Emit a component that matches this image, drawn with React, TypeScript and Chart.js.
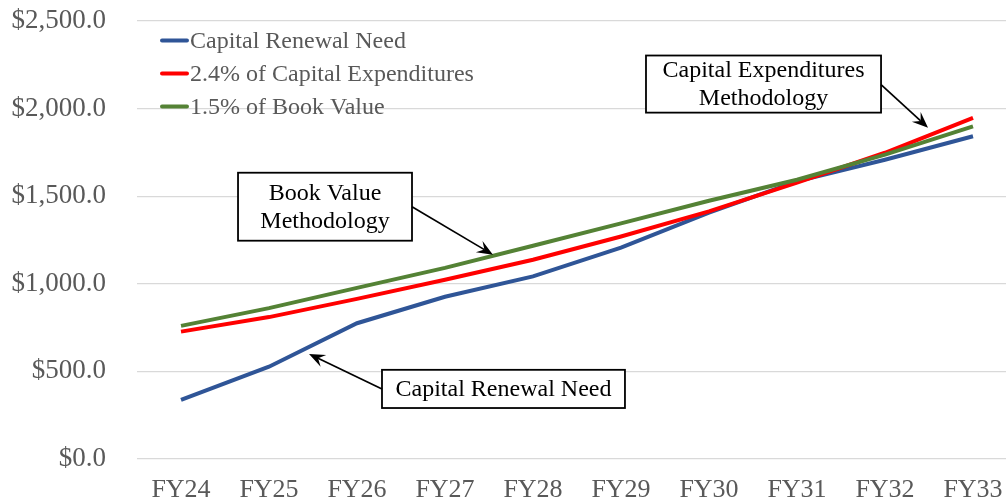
import React, { useEffect, useRef } from "react";
import { Chart, registerables } from "chart.js";

Chart.register(...registerables);

const categories = ["FY24", "FY25", "FY26", "FY27", "FY28", "FY29", "FY30", "FY31", "FY32", "FY33"];
const capitalRenewalNeed = [337, 527, 775, 926, 1042, 1206, 1406, 1585, 1708, 1842];
const capitalExpenditures = [727, 810, 914, 1023, 1137, 1270, 1413, 1577, 1748, 1947];
const bookValue = [760, 861, 977, 1091, 1217, 1345, 1474, 1594, 1737, 1899];
const seriesNames = ["Capital Renewal Need", "2.4% of Capital Expenditures", "1.5% of Book Value"];
const seriesColors = ["#2F5597", "#FF0000", "#548235"];
const yTicks = [0, 500, 1000, 1500, 2000, 2500];

// Callout boxes in data coordinates: [leftIndex, topValue, rightIndex, bottomValue]
const calloutTexts = [["Book Value", "Methodology"], ["Capital Renewal Need"], ["Capital Expenditures", "Methodology"]];
const calloutBoxes = [
  [0.648, 1634, 2.625, 1246],
  [2.284, 509, 5.045, 291],
  [5.284, 2303, 7.955, 1977],
];
// Arrow: side of box ("right"/"left"), start value on that side, tip [index, value]
const calloutArrows = [
  { side: "right", startValue: 1440, tip: [3.545, 1166] },
  { side: "left", startValue: 400, tip: [1.455, 600] },
  { side: "right", startValue: 2137, tip: [8.489, 1891] },
];

const FONT = "'Liberation Serif', 'Times New Roman', serif";

function drawArrow(ctx: CanvasRenderingContext2D, x1: number, y1: number, x2: number, y2: number) {
  const ang = Math.atan2(y2 - y1, x2 - x1);
  const len = 16;
  const half = 6.5;
  const notch = 10;
  ctx.save();
  ctx.strokeStyle = "#000";
  ctx.fillStyle = "#000";
  ctx.lineWidth = 1.7;
  ctx.beginPath();
  ctx.moveTo(x1, y1);
  ctx.lineTo(x2 - Math.cos(ang) * notch, y2 - Math.sin(ang) * notch);
  ctx.stroke();
  ctx.translate(x2, y2);
  ctx.rotate(ang);
  ctx.beginPath();
  ctx.moveTo(0, 0);
  ctx.lineTo(-len, -half);
  ctx.lineTo(-notch, 0);
  ctx.lineTo(-len, half);
  ctx.closePath();
  ctx.fill();
  ctx.restore();
}

const overlayPlugin = {
  id: "overlay",
  afterDatasetsDraw(chart: any) {
    const ctx: CanvasRenderingContext2D = chart.ctx;
    const xs = chart.scales.x;
    const ys = chart.scales.y;
    const area = chart.chartArea;
    const xAt = (i: number) => xs.getPixelForValue(0) + i * (xs.getPixelForValue(1) - xs.getPixelForValue(0));

    // Legend
    ctx.save();
    const lx = area.left + 23;
    const ly = area.top + 19.5;
    const rowH = 33;
    seriesNames.forEach((name, i) => {
      const y = ly + i * rowH;
      ctx.strokeStyle = seriesColors[i];
      ctx.lineWidth = 4;
      ctx.lineCap = "round";
      ctx.beginPath();
      ctx.moveTo(lx + 2, y);
      ctx.lineTo(lx + 27, y);
      ctx.stroke();
      ctx.fillStyle = "#595959";
      ctx.font = `24px ${FONT}`;
      ctx.textAlign = "left";
      ctx.textBaseline = "middle";
      ctx.fillText(name, lx + 30, y + 1);
    });
    ctx.restore();

    // Callouts
    calloutBoxes.forEach((b, i) => {
      const left = xAt(b[0]);
      const right = xAt(b[2]);
      const top = ys.getPixelForValue(b[1]);
      const bottom = ys.getPixelForValue(b[3]);
      ctx.save();
      ctx.fillStyle = "#FFFFFF";
      ctx.fillRect(left, top, right - left, bottom - top);
      ctx.strokeStyle = "#000";
      ctx.lineWidth = 1.8;
      ctx.strokeRect(left, top, right - left, bottom - top);
      const lines = calloutTexts[i];
      const lh = 28;
      const cy = (top + bottom) / 2;
      const cx = (left + right) / 2;
      ctx.fillStyle = "#000";
      ctx.font = `24px ${FONT}`;
      ctx.textAlign = "center";
      ctx.textBaseline = "middle";
      lines.forEach((t, j) => {
        ctx.fillText(t, cx, cy + (j - (lines.length - 1) / 2) * lh + 1);
      });
      ctx.restore();
      const a = calloutArrows[i];
      const sx = a.side === "right" ? right : left;
      const sy = ys.getPixelForValue(a.startValue);
      drawArrow(ctx, sx, sy, xAt(a.tip[0]), ys.getPixelForValue(a.tip[1]));
    });
  },
};

export default function App() {
  const canvasRef = useRef<HTMLCanvasElement | null>(null);

  useEffect(() => {
    if (!canvasRef.current) return;
    const series = [capitalRenewalNeed, capitalExpenditures, bookValue];
    const chart = new Chart(canvasRef.current, {
      type: "line",
      data: {
        labels: categories,
        datasets: series.map((d, i) => ({
          label: seriesNames[i],
          data: d,
          borderColor: seriesColors[i],
          backgroundColor: seriesColors[i],
          borderWidth: 4,
          pointRadius: 0,
          tension: 0,
          fill: false,
          order: 2 - i,
        })),
      },
      options: {
        animation: false,
        responsive: true,
        maintainAspectRatio: false,
        layout: { padding: { top: 21, right: 7, left: 0, bottom: 0 } },
        plugins: { legend: { display: false }, tooltip: { enabled: false } },
        scales: {
          x: {
            offset: true,
            grid: { display: false, drawTicks: false },
            border: { display: false },
            ticks: { color: "#595959", font: { family: FONT, size: 26 }, padding: 16, maxRotation: 0 },
            afterFit: (s: any) => {
              s.height = 45;
              s.paddingLeft = 0;
              s.paddingRight = 0;
            },
          },
          y: {
            min: 0,
            max: 2500,
            afterBuildTicks: (s: any) => {
              s.ticks = yTicks.map((v) => ({ value: v }));
            },
            grid: { color: "#D9D9D9", lineWidth: 1.3, drawTicks: false },
            border: { display: false },
            ticks: {
              color: "#595959",
              font: { family: FONT, size: 27 },
              padding: 31,
              callback: (v: any) =>
                "$" + Number(v).toLocaleString("en-US", { minimumFractionDigits: 1, maximumFractionDigits: 1 }),
            },
            afterFit: (s: any) => {
              s.width = 137;
              s.paddingTop = 0;
              s.paddingBottom = 0;
            },
          },
        },
      },
      plugins: [overlayPlugin],
    });
    return () => chart.destroy();
  }, []);

  return (
    <div style={{ position: "absolute", left: 0, top: 0, width: 1006, height: 504, overflow: "hidden", background: "#fff" }}>
      <div style={{ position: "relative", width: 1024, height: 504 }}>
        <canvas ref={canvasRef} />
      </div>
    </div>
  );
}
